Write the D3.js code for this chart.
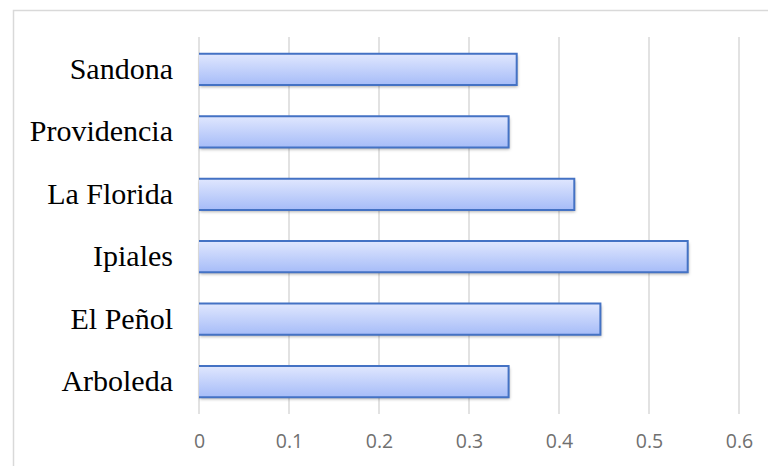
<!DOCTYPE html>
<html><head><meta charset="utf-8">
<script src="https://cdn.jsdelivr.net/npm/d3@7"></script>
<style>html,body{margin:0;padding:0;background:#fff;overflow:hidden}</style>
</head><body>
<svg id="c" width="768" height="466"></svg>
<script>
const categories = ["Sandona","Providencia","La Florida","Ipiales","El Peñol","Arboleda"];
const values = [0.353, 0.344, 0.417, 0.543, 0.446, 0.344];
const tickValues = [0, 0.1, 0.2, 0.3, 0.4, 0.5, 0.6];
const tickLabels = ["0","0.1","0.2","0.3","0.4","0.5","0.6"];

const svg = d3.select("#c");
const defs = svg.append("defs");
const grad = defs.append("linearGradient").attr("id","g").attr("x1",0).attr("y1",0).attr("x2",0).attr("y2",1);
grad.append("stop").attr("offset","0%").attr("stop-color","#e0e7fe");
grad.append("stop").attr("offset","100%").attr("stop-color","#a6bcf8");
const f = defs.append("filter").attr("id","sh").attr("x","-5%").attr("y","-30%").attr("width","110%").attr("height","170%");
f.append("feDropShadow").attr("dx",1).attr("dy",2).attr("stdDeviation",1.6).attr("flood-color","#000").attr("flood-opacity",0.3);

// chart border
svg.append("rect").attr("x",13.5).attr("y",10.5).attr("width",800).attr("height",600)
  .attr("fill","none").attr("stroke","#d9d9d9").attr("stroke-width",1.5);

const x = d3.scaleLinear().domain([0,0.6]).range([199,739]);
const y = d3.scaleBand().domain(categories).range([37,414]).paddingInner(0.5).paddingOuter(0.27);

// gridlines
svg.append("g").selectAll("line").data(tickValues).join("line")
  .attr("x1",d=>x(d)).attr("x2",d=>x(d)).attr("y1",37).attr("y2",414)
  .attr("stroke","#d9d9d9").attr("stroke-width",1.5);

// x axis labels
const xa = d3.axisBottom(x).tickValues(tickValues).tickFormat((d,i)=>tickLabels[i]).tickSize(0).tickPadding(0);
const gx = svg.append("g").attr("transform","translate(0,434)").call(xa);
gx.select(".domain").remove();
gx.selectAll("text").attr("font-family","'Open Sans', sans-serif").attr("font-size",19.5).attr("fill","#707070").attr("dy","0.71em");

// y axis labels
const ya = d3.axisLeft(y).tickSize(0).tickPadding(0);
const gy = svg.append("g").attr("transform","translate(173,0)").call(ya);
gy.select(".domain").remove();
gy.selectAll("text").attr("font-family","'Liberation Serif', 'Times New Roman', serif").attr("font-size",30).attr("fill","#000").attr("dy","0.32em");

// bars
const bars = svg.append("g");
categories.forEach((c,i)=>{
  const x0 = x(0), x1 = x(values[i]), y0 = y(c), h = y.bandwidth();
  bars.append("rect").attr("x",x0).attr("y",y0).attr("width",x1-x0).attr("height",h)
    .attr("fill","url(#g)").attr("filter","url(#sh)");
  bars.append("path").attr("d",`M${x0},${y0}H${x1}V${y0+h}H${x0}`)
    .attr("fill","none").attr("stroke","#4472c4").attr("stroke-width",2);
});
</script>
</body></html>
